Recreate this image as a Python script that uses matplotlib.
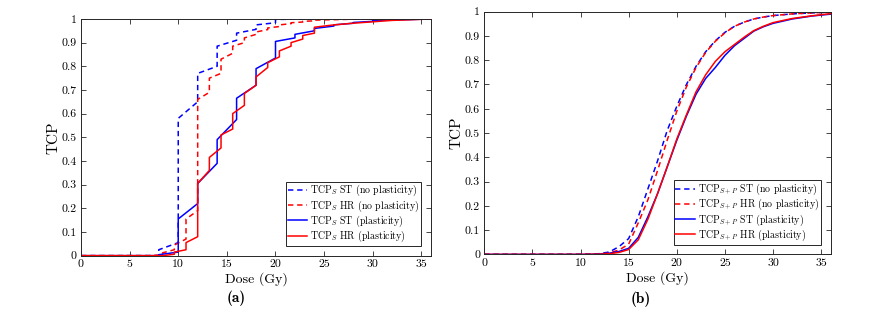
import matplotlib
matplotlib.use("Agg")
import matplotlib.pyplot as plt

plt.rcParams['font.family'] = 'cmr10'
plt.rcParams['mathtext.fontset'] = 'cm'
plt.rcParams['axes.unicode_minus'] = False

# panel (a): TCP_S, step-like curves (jumps at each extra fraction)
dose_st_np = [0, 8, 8, 10, 10, 12, 12, 14, 14, 16, 16, 18, 18, 20, 20, 22, 36]
tcp_st_np = [0, 0, 0.025, 0.055, 0.58, 0.65, 0.77, 0.80, 0.885, 0.91, 0.94, 0.956, 0.975, 0.984, 0.998, 0.999, 1.0]

dose_hr_np = [0, 7.2, 8.4, 8.4, 9.6, 9.6, 10.8, 10.8, 12, 12, 13.2, 13.2, 14.4, 14.4, 15.6, 15.6,
              16.8, 16.8, 18, 18, 19.2, 19.2, 20.4, 20.4, 21.6, 21.6, 22.8, 22.8, 24, 24, 26, 28, 36]
tcp_hr_np = [0, 0, 0.004, 0.012, 0.025, 0.045, 0.07, 0.155, 0.19, 0.66, 0.69, 0.75, 0.77, 0.83, 0.855, 0.885,
             0.90, 0.92, 0.935, 0.945, 0.955, 0.962, 0.968, 0.975, 0.98, 0.984, 0.987, 0.99, 0.992, 0.995, 0.997, 0.999, 1.0]

dose_st_p = [0, 8, 8, 10, 10, 12, 12, 14, 14, 16, 16, 18, 18, 20, 20, 22, 22, 24, 24, 26, 26, 28, 28, 30, 30, 36]
tcp_st_p = [0, 0, 0.004, 0.015, 0.155, 0.22, 0.305, 0.39, 0.49, 0.575, 0.665, 0.72, 0.79, 0.835, 0.905,
            0.92, 0.935, 0.95, 0.96, 0.97, 0.975, 0.982, 0.985, 0.99, 0.993, 1.0]

dose_hr_p = [0, 8.4, 9.6, 9.6, 10.8, 10.8, 12, 12, 13.2, 13.2, 14.4, 14.4, 15.6, 15.6, 16.8, 16.8,
             18, 18, 19.2, 19.2, 20.4, 20.4, 21.6, 21.6, 22.8, 22.8, 24, 24, 26, 28, 30, 32, 36]
tcp_hr_p = [0, 0, 0.006, 0.015, 0.025, 0.055, 0.08, 0.305, 0.36, 0.415, 0.455, 0.51, 0.535, 0.60, 0.635, 0.685,
            0.72, 0.755, 0.795, 0.815, 0.84, 0.865, 0.885, 0.90, 0.915, 0.93, 0.94, 0.965, 0.975, 0.982, 0.988, 0.994, 1.0]

# panel (b): TCP_S+P, smooth curves
dose_b = [0, 10, 11, 12, 13, 14, 15, 16, 17, 18, 19, 20, 21, 22, 23, 24, 25, 26, 27, 28, 29, 30, 32, 34, 36]
st_np_b = [0, 0, 0.001, 0.003, 0.01, 0.032, 0.065, 0.155, 0.27, 0.385, 0.51, 0.61, 0.70, 0.775, 0.835,
           0.88, 0.915, 0.94, 0.957, 0.97, 0.978, 0.984, 0.991, 0.995, 0.998]
hr_np_b = [0, 0, 0.001, 0.002, 0.006, 0.018, 0.042, 0.13, 0.225, 0.345, 0.47, 0.59, 0.69, 0.77, 0.832,
           0.878, 0.913, 0.94, 0.957, 0.97, 0.978, 0.984, 0.991, 0.995, 0.998]
st_p_b = [0, 0, 0.0005, 0.002, 0.005, 0.012, 0.025, 0.07, 0.155, 0.25, 0.36, 0.47, 0.57, 0.66, 0.725,
          0.77, 0.82, 0.86, 0.89, 0.92, 0.938, 0.952, 0.97, 0.982, 0.99]
hr_p_b = [0, 0, 0.0005, 0.001, 0.003, 0.008, 0.02, 0.06, 0.145, 0.25, 0.36, 0.475, 0.575, 0.67, 0.74,
          0.795, 0.835, 0.865, 0.895, 0.922, 0.94, 0.955, 0.972, 0.983, 0.992]

labels_a = [r'TCP$_S$ ST (no plasticity)', r'TCP$_S$ HR (no plasticity)',
            r'TCP$_S$ ST (plasticity)', r'TCP$_S$ HR (plasticity)']
labels_b = [r'TCP$_{S+P}$ ST (no plasticity)', r'TCP$_{S+P}$ HR (no plasticity)',
            r'TCP$_{S+P}$ ST (plasticity)', r'TCP$_{S+P}$ HR (plasticity)']

dash = (0, (3.5, 2.5))
lw = 1.1


def style_axes(ax):
    ax.set_xlim(0, 36)
    ax.set_ylim(0, 1)
    ax.set_xticks(range(0, 36, 5))
    ax.set_yticks([i / 10 for i in range(11)])
    ax.set_yticklabels(['0'] + ['%.1f' % (i / 10) for i in range(1, 10)] + ['1'])
    ax.tick_params(direction='in', top=True, right=True, length=3.5, width=0.6,
                   labelsize=8.5, color='0.15', pad=3)
    for s in ax.spines.values():
        s.set_linewidth(0.7)
        s.set_color('0.15')
    ax.set_xlabel('Dose (Gy)', fontsize=10, labelpad=2)
    ax.set_ylabel('TCP', fontsize=11, labelpad=1)


fig = plt.figure(figsize=(8.82, 3.16), dpi=100)
ax1 = fig.add_axes([0.0918, 0.191, 0.397, 0.749])
ax2 = fig.add_axes([0.549, 0.195, 0.393, 0.768])

ax1.plot(dose_st_np, tcp_st_np, color='blue', ls=dash, lw=lw, label=labels_a[0])
ax1.plot(dose_hr_np, tcp_hr_np, color='red', ls=dash, lw=lw, label=labels_a[1])
ax1.plot(dose_st_p, tcp_st_p, color='blue', lw=lw, label=labels_a[2])
ax1.plot(dose_hr_p, tcp_hr_p, color='red', lw=lw, label=labels_a[3])

ax2.plot(dose_b, st_np_b, color='blue', ls=dash, lw=lw, label=labels_b[0])
ax2.plot(dose_b, hr_np_b, color='red', ls=dash, lw=lw, label=labels_b[1])
ax2.plot(dose_b, st_p_b, color='blue', lw=lw, label=labels_b[2])
ax2.plot(dose_b, hr_p_b, color='red', lw=lw, label=labels_b[3])

for ax in (ax1, ax2):
    style_axes(ax)
    leg = ax.legend(loc='lower right', fontsize=7.1, handlelength=2.0, handletextpad=0.3,
                    labelspacing=0.0, borderpad=0.15, borderaxespad=1.0, fancybox=False,
                    framealpha=1, edgecolor='0.15')
    leg.get_frame().set_linewidth(0.7)

fig.text(0.268, 0.045, '(a)', fontfamily='cmb10', fontsize=11, ha='center')
fig.text(0.726, 0.04, '(b)', fontfamily='cmb10', fontsize=11, ha='center')

fig.savefig('out.png', dpi=100)
